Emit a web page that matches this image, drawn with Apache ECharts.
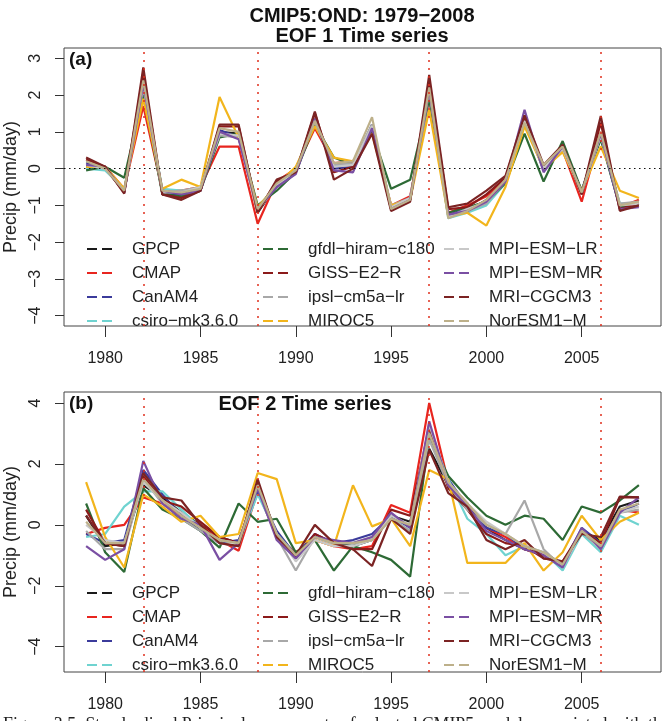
<!DOCTYPE html>
<html>
<head>
<meta charset="utf-8">
<script src="https://cdn.jsdelivr.net/npm/echarts@6/dist/echarts.min.js"></script>
<style>
  html, body { margin: 0; padding: 0; background: #fff; }
  #chart { width: 666px; height: 721px; }
</style>
</head>
<body>
<div id="chart"></div>
<script>
// years and axis marks
var years = [1979, 1980, 1981, 1982, 1983, 1984, 1985, 1986, 1987, 1988, 1989, 1990, 1991, 1992, 1993,
  1994, 1995, 1996, 1997, 1998, 1999, 2000, 2001, 2002, 2003, 2004, 2005, 2006, 2007, 2008]
var tickYears = [1980, 1985, 1990, 1995, 2000, 2005]
var eventYears = [1982, 1988, 1997, 2006]
var ticksA = [-4, -3, -2, -1, 0, 1, 2, 3]
var ticksB = [-4, -2, 0, 2, 4]

var models = ['GPCP', 'CMAP', 'CanAM4', 'csiro−mk3.6.0', 'gfdl−hiram−c180', 'GISS−E2−R',
  'ipsl−cm5a−lr', 'MIROC5', 'MPI−ESM−LR', 'MPI−ESM−MR', 'MRI−CGCM3', 'NorESM1−M']
var colors = ['#1a1a1a', '#e8251f', '#3b3b9b', '#6fd3d0', '#2d6a35', '#8b1a1a',
  '#a8a8a8', '#f2b51c', '#c8c8c8', '#7a4fa3', '#7b2323', '#bdb08a']

// EOF 1 time series (a)
var pc1GPCP = [0.05, 0.0, -0.62, 2.3, -0.68, -0.7, -0.55, 1.0, 0.95, -1.2, -0.45, -0.1, 1.35, 0.1, 0.15, 1.15, -1.1, -0.85, 2.1, -1.3, -1.15, -0.85, -0.3, 1.3, 0.05, 0.55, -0.6, 0.95, -1.0, -0.95]
var pc1CMAP = [0.1, 0.05, -0.55, 1.7, -0.6, -0.6, -0.5, 0.6, 0.6, -1.5, -0.35, 0.0, 1.1, 0.15, 0.2, 1.0, -1.0, -0.75, 1.9, -1.2, -1.0, -0.75, -0.3, 1.25, 0.05, 0.5, -0.9, 1.0, -1.05, -0.85]
var pc1CanAM4 = [0.15, 0.0, -0.6, 2.1, -0.6, -0.75, -0.6, 1.05, 0.85, -1.1, -0.5, -0.1, 1.3, 0.0, 0.05, 1.2, -1.05, -0.8, 2.05, -1.25, -1.1, -0.95, -0.35, 1.35, -0.05, 0.55, -0.6, 0.85, -1.05, -1.0]
var pc1Csiro = [0.0, -0.05, -0.55, 2.2, -0.55, -0.6, -0.55, 0.9, 0.9, -1.05, -0.45, -0.05, 1.25, 0.1, 0.1, 1.05, -1.05, -0.85, 2.0, -1.35, -1.2, -1.0, -0.4, 1.2, 0.0, 0.5, -0.6, 0.9, -0.95, -0.95]
var pc1Gfdl = [-0.05, 0.05, -0.25, 2.0, -0.7, -0.75, -0.6, 0.85, 0.95, -1.0, -0.6, -0.1, 1.2, 0.3, 0.1, 1.0, -0.55, -0.3, 1.9, -1.2, -1.05, -0.9, -0.4, 0.95, -0.35, 0.75, -0.6, 0.8, -1.05, -0.95]
var pc1Giss = [0.25, 0.05, -0.65, 2.6, -0.7, -0.8, -0.6, 1.15, 1.15, -1.15, -0.35, -0.1, 1.5, -0.1, 0.05, 1.1, -1.1, -0.85, 2.35, -1.1, -1.05, -0.7, -0.25, 1.4, 0.05, 0.6, -0.7, 1.25, -1.1, -0.95]
var pc1Ipsl = [0.1, 0.0, -0.6, 2.2, -0.65, -0.6, -0.5, 0.9, 0.85, -1.15, -0.45, 0.0, 1.3, 0.1, 0.15, 1.2, -1.0, -0.8, 2.1, -1.3, -1.15, -0.95, -0.3, 1.2, 0.05, 0.5, -0.65, 0.9, -0.95, -0.9]
var pc1Miroc = [0.05, 0.05, -0.55, 1.9, -0.55, -0.3, -0.5, 1.95, 0.85, -1.05, -0.45, 0.05, 1.15, 0.3, 0.2, 0.95, -1.0, -0.85, 1.6, -1.3, -1.2, -1.55, -0.5, 1.15, 0.0, 0.45, -0.6, 0.6, -0.6, -0.8]
var pc1MpiLR = [0.1, 0.0, -0.6, 2.3, -0.65, -0.65, -0.5, 0.95, 0.9, -1.15, -0.45, -0.05, 1.3, 0.05, 0.1, 1.15, -1.05, -0.8, 2.2, -1.3, -1.1, -0.9, -0.35, 1.3, 0.0, 0.55, -0.65, 0.9, -1.0, -0.95]
var pc1MpiMR = [0.1, 0.05, -0.65, 2.3, -0.6, -0.7, -0.6, 1.0, 0.8, -1.1, -0.5, -0.15, 1.35, -0.05, -0.1, 1.1, -1.1, -0.85, 2.15, -1.25, -1.15, -0.9, -0.35, 1.6, -0.1, 0.6, -0.65, 0.95, -1.1, -1.05]
var pc1Mri = [0.3, 0.05, -0.68, 2.75, -0.7, -0.85, -0.6, 1.2, 1.2, -1.2, -0.3, -0.1, 1.55, -0.3, 0.0, 0.95, -1.15, -0.9, 2.55, -1.05, -0.95, -0.6, -0.2, 1.45, 0.1, 0.65, -0.7, 1.43, -1.15, -1.0]
var pc1Nor = [0.2, 0.0, -0.6, 2.4, -0.6, -0.65, -0.55, 1.1, 1.0, -1.1, -0.4, -0.05, 1.3, 0.15, 0.2, 1.4, -1.1, -0.85, 2.2, -1.35, -1.15, -0.85, -0.3, 1.25, 0.1, 0.6, -0.65, 1.0, -1.0, -0.9]

// EOF 2 time series (b)
var pc2GPCP = [0.3, -0.7, -0.6, 1.3, 0.9, 0.4, 0.0, -0.4, -0.6, 1.3, -0.3, -1.1, -0.4, -0.6, -0.7, -0.5, 0.3, 0.1, 2.5, 1.3, 0.7, -0.1, -0.5, -0.8, -1.0, -1.3, -0.2, -0.5, 0.6, 0.8]
var pc2CMAP = [-0.3, -0.1, 0.0, 0.9, 0.7, 0.3, 0.0, -0.5, -0.85, 1.1, -0.4, -0.9, -0.5, -0.7, -0.8, -0.7, 0.65, 0.4, 4.0, 1.4, 0.7, -0.1, -0.4, -0.8, -1.0, -1.3, -0.3, -0.7, 0.5, 0.4]
var pc2CanAM4 = [-0.3, -0.6, -0.5, 1.8, 1.0, 0.3, -0.2, -0.6, -0.5, 1.1, -0.2, -1.0, -0.3, -0.6, -0.5, -0.3, 0.3, -0.1, 3.0, 1.5, 0.6, -0.1, -0.3, -0.8, -0.9, -1.3, -0.1, -0.6, 0.4, 0.7]
var pc2Csiro = [-0.4, -0.3, 0.6, 1.1, 1.1, 0.5, -0.1, -0.5, -0.6, 1.0, -0.3, -1.0, -0.4, -0.6, -0.6, -0.5, 0.2, -0.2, 3.1, 1.5, 0.2, -0.3, -1.0, -0.7, -0.9, -1.5, -0.3, -0.9, 0.3, 0.0]
var pc2Gfdl = [0.7, -0.9, -1.55, 1.2, 0.5, 0.2, -0.2, -0.75, 0.7, 0.1, 0.2, -0.9, -0.5, -1.5, -0.7, -0.9, -1.15, -1.7, 2.9, 1.6, 0.9, 0.3, 0.0, 0.3, 0.2, -0.5, 0.6, 0.4, 0.8, 1.3]
var pc2Giss = [0.5, -0.6, -0.7, 1.6, 0.8, 0.6, 0.1, -0.4, -0.6, 1.4, -0.4, -1.1, -0.3, -0.6, -0.8, -0.8, 0.5, 0.3, 3.2, 1.2, 0.5, -0.3, -0.6, -0.7, -1.1, -1.2, -0.2, -0.6, 0.9, 0.9]
var pc2Ipsl = [-0.2, -0.8, -0.8, 1.5, 0.7, 0.2, -0.2, -0.6, -0.7, 1.3, -0.4, -1.5, -0.4, -0.6, -0.6, -0.4, 0.2, -0.2, 2.8, 1.3, 0.5, 0.0, -0.3, 0.8, -0.8, -1.4, -0.2, -0.8, 0.4, 0.5]
var pc2Miroc = [1.4, -0.4, -1.4, 1.0, 0.6, 0.1, 0.3, -0.4, -0.3, 1.7, 1.5, -0.6, -0.5, -0.7, 1.3, -0.05, 0.2, -0.7, 1.8, 1.5, -1.25, -1.25, -1.25, -0.6, -1.5, -0.9, 0.3, -0.5, 0.1, 0.4]
var pc2MpiLR = [0.0, -0.5, -0.6, 1.4, 0.8, 0.4, -0.1, -0.5, -0.6, 1.3, -0.3, -1.2, -0.5, -0.7, -0.7, -0.5, 0.3, 0.0, 3.3, 1.4, 0.7, 0.1, -0.3, -0.7, -0.9, -1.4, -0.2, -0.7, 0.4, 0.6]
var pc2MpiMR = [-0.7, -1.15, -0.8, 2.1, 0.7, 0.2, 0.0, -1.15, -0.6, 1.2, -0.5, -1.1, -0.4, -0.5, -0.6, -0.4, 0.4, -0.1, 3.4, 1.3, 0.6, -0.2, -0.5, -0.8, -1.0, -1.4, -0.1, -0.8, 0.4, 0.9]
var pc2Mri = [0.3, -0.6, -0.7, 1.7, 0.9, 0.8, 0.0, -0.6, -0.7, 1.5, -0.4, -1.0, 0.0, -0.6, -0.8, -1.35, 0.2, -0.3, 2.46, 1.04, 0.6, -0.5, -0.8, -0.5, -1.1, -1.2, -0.3, -0.4, 0.93, 0.9]
var pc2Nor = [0.1, -0.6, -0.6, 1.5, 0.8, 0.3, -0.1, -0.5, -0.6, 1.3, -0.3, -1.0, -0.4, -0.6, -0.6, -0.5, 0.2, 0.0, 3.0, 1.4, 0.7, 0.0, -0.3, -0.7, -0.9, -1.3, -0.2, -0.7, 0.5, 0.7]

var pc1 = [pc1GPCP, pc1CMAP, pc1CanAM4, pc1Csiro, pc1Gfdl, pc1Giss, pc1Ipsl, pc1Miroc, pc1MpiLR, pc1MpiMR, pc1Mri, pc1Nor]
var pc2 = [pc2GPCP, pc2CMAP, pc2CanAM4, pc2Csiro, pc2Gfdl, pc2Giss, pc2Ipsl, pc2Miroc, pc2MpiLR, pc2MpiMR, pc2Mri, pc2Nor]

var font = '"Liberation Sans", Arial, sans-serif'
var dashIcon = 'path://M0,0h10v2h-10zM15,0h10v2h-10z'

function xAxisFor (idx) {
  return {
    type: 'value', gridIndex: idx, min: 1977.84, max: 2009.16,
    axisLine: { show: false, onZero: false },
    splitLine: { show: false },
    axisTick: { show: true, length: 11, customValues: tickYears, lineStyle: { color: '#333' } },
    axisLabel: {
      customValues: tickYears, margin: 25, fontSize: 16, fontFamily: font, color: '#222',
      formatter: function (v) { return String(v) }
    }
  }
}

function yAxisFor (idx, min, max, ticks) {
  return {
    type: 'value', gridIndex: idx, min: min, max: max,
    name: 'Precip (mm/day)', nameLocation: 'middle', nameGap: 43,
    nameTextStyle: { fontSize: 18, fontFamily: font, color: '#222' },
    axisLine: { show: false, onZero: false },
    splitLine: { show: false },
    axisTick: { show: true, length: 9, customValues: ticks, lineStyle: { color: '#333' } },
    axisLabel: {
      customValues: ticks, rotate: 90, margin: 20, fontSize: 16, fontFamily: font, color: '#222',
      formatter: function (v) { return String(v).replace('-', '−') }
    }
  }
}

function legendFor (left, top, names) {
  return {
    orient: 'vertical', left: left, top: top, selectedMode: false,
    itemWidth: 25, itemHeight: 3, itemGap: 4, icon: dashIcon,
    textStyle: { fontSize: 17, fontFamily: font, color: '#222', lineHeight: 20, padding: [0, 0, 0, 15] },
    data: names
  }
}

var series = []
;[pc1, pc2].forEach(function (panel, p) {
  panel.forEach(function (vals, i) {
    series.push({
      name: models[i], type: 'line', xAxisIndex: p, yAxisIndex: p,
      symbol: 'none', animation: false,
      lineStyle: { color: colors[i], width: 2.2 },
      itemStyle: { color: colors[i] },
      data: years.map(function (y, k) { return [y, vals[k]] })
    })
  })
})

// red dotted lines at event years, plus zero line in (a)
var redLines = eventYears.map(function (y) { return { xAxis: y } })
series[0].markLine = {
  silent: true, symbol: ['none', 'none'], label: { show: false }, animation: false,
  lineStyle: { color: '#e0301e', type: [2, 6], width: 1.5 },
  data: redLines.concat([{ yAxis: 0, lineStyle: { color: '#111', type: [1.5, 3.5], width: 1.2 } }])
}
series[12].markLine = {
  silent: true, symbol: ['none', 'none'], label: { show: false }, animation: false,
  lineStyle: { color: '#e0301e', type: [2, 6], width: 1.5 },
  data: redLines
}

var option = {
  backgroundColor: '#fff',
  animation: false,
  grid: [
    { left: 64, right: 5, top: 48, height: 278, outerBoundsMode: 'none', containLabel: false, show: true, borderColor: '#444', borderWidth: 1, backgroundColor: 'transparent' },
    { left: 64, right: 5, top: 392, height: 280, outerBoundsMode: 'none', containLabel: false, show: true, borderColor: '#444', borderWidth: 1, backgroundColor: 'transparent' }
  ],
  xAxis: [xAxisFor(0), xAxisFor(1)],
  yAxis: [yAxisFor(0, -4.28, 3.28, ticksA), yAxisFor(1, -4.83, 4.36, ticksB)],
  legend: [
    legendFor(82, 234, models.slice(0, 4)),
    legendFor(258, 234, models.slice(4, 8)),
    legendFor(439, 234, models.slice(8, 12)),
    legendFor(82, 578, models.slice(0, 4)),
    legendFor(258, 578, models.slice(4, 8)),
    legendFor(439, 578, models.slice(8, 12))
  ],
  graphic: [
    { type: 'text', x: 362, y: 16, style: { text: 'CMIP5:OND: 1979−2008', font: 'bold 20px ' + font, fill: '#111', align: 'center', verticalAlign: 'middle' } },
    { type: 'text', x: 362, y: 36, style: { text: 'EOF 1 Time series', font: 'bold 20px ' + font, fill: '#111', align: 'center', verticalAlign: 'middle' } },
    { type: 'text', x: 69, y: 60, style: { text: '(a)', font: 'bold 19px ' + font, fill: '#111', align: 'left', verticalAlign: 'middle' } },
    { type: 'text', x: 69, y: 404, style: { text: '(b)', font: 'bold 19px ' + font, fill: '#111', align: 'left', verticalAlign: 'middle' } },
    { type: 'text', x: 305, y: 404, style: { text: 'EOF 2 Time series', font: 'bold 20px ' + font, fill: '#111', align: 'center', verticalAlign: 'middle' } },
    { type: 'text', x: 3, y: 716, style: { text: 'Figure 3.5: Standardised Principal components of selected CMIP5 models associated with the', font: '17.8px "Liberation Serif", serif', fill: '#222', align: 'left', verticalAlign: 'top' } }
  ],
  series: series
}

var chart = echarts.init(document.getElementById('chart'))
chart.setOption(option)
</script>
</body>
</html>
